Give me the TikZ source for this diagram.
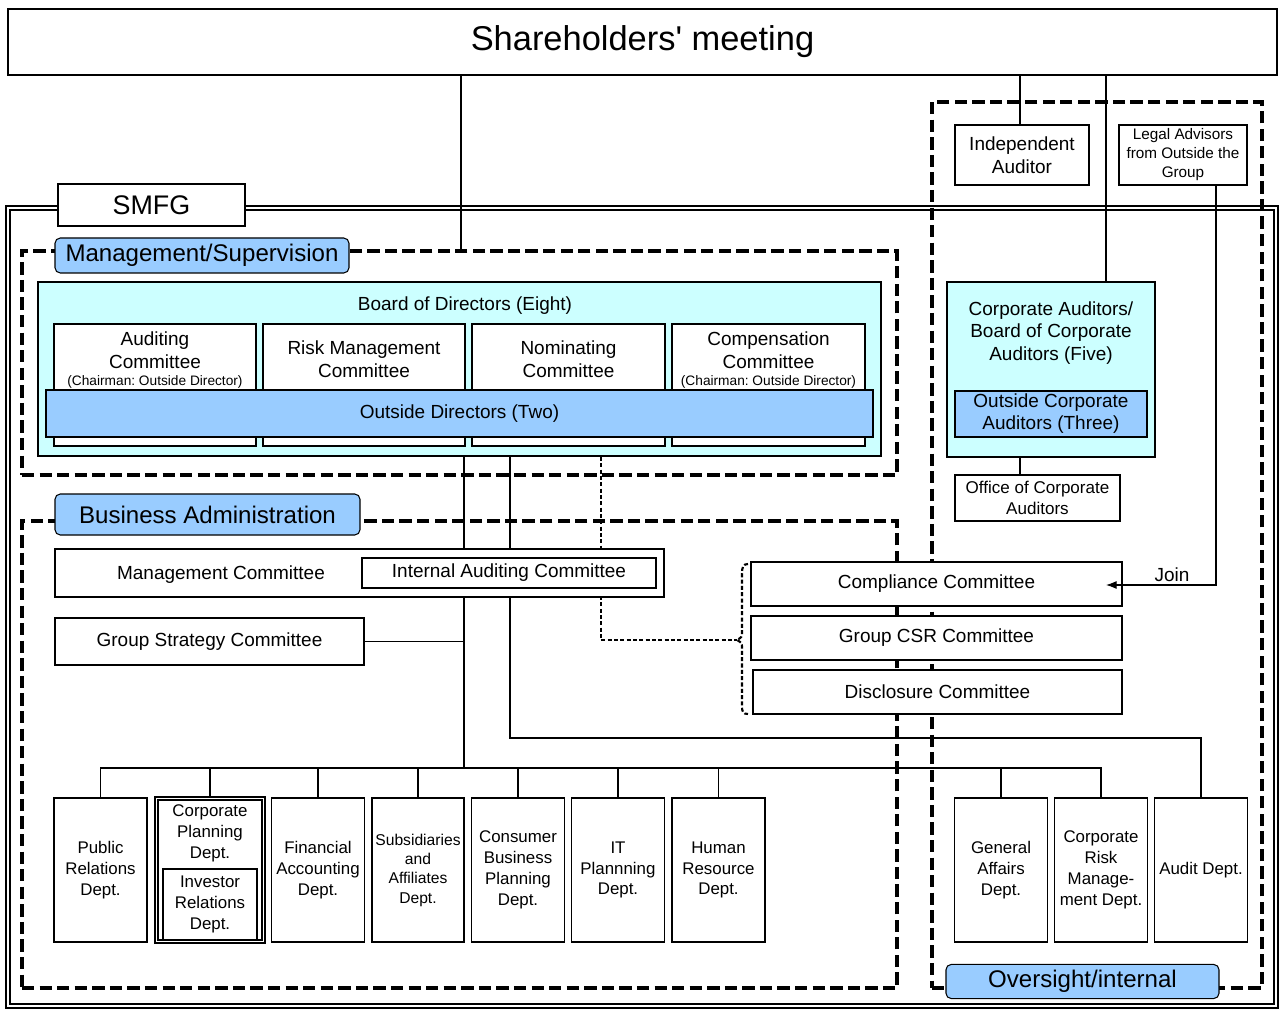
\documentclass[tikz,border=0pt]{standalone}
\usepackage{fontspec}
\setmainfont{Liberation Sans}
\usetikzlibrary{arrows.meta,calc}
\definecolor{lightcyan}{HTML}{CCFFFF}
\definecolor{paleblue}{HTML}{99CCFF}
\frenchspacing
\tikzstyle{unitbox}=[draw,line width=1.1pt,fill=white,align=center,inner sep=1pt]
\tikzstyle{thinbox}=[draw,line width=0.8pt,fill=white,align=center,inner sep=1pt]
\tikzstyle{region}=[draw,line width=2.1pt,dash pattern=on 7pt off 3pt]
\tikzstyle{tagbox}=[draw,line width=0.6pt,fill=paleblue,rounded corners=3pt,font=\fontsize{13.7}{16}\selectfont]
\tikzstyle{link}=[draw,line width=0.6pt]
\tikzstyle{dottedlink}=[draw,line width=1pt,dash pattern=on 2.3pt off 1.3pt]
\tikzstyle{bodytext}=[font=\fontsize{10.8}{13}\selectfont,align=center]
\tikzstyle{smalltext}=[font=\fontsize{7.8}{9}\selectfont]
\tikzstyle{depttext}=[font=\fontsize{9.6}{11.9}\selectfont]
\tikzset{sz/.style 2 args={minimum width=#1*0.02cm,minimum height=#2*0.02cm}}

\begin{document}
\begin{tikzpicture}[x=0.02cm,y=-0.02cm]
\useasboundingbox (0,0) rectangle (1279,1010);

% frames and regions
\node[draw,line width=0.95pt,double,double distance=1pt,sz={1268}{798}] (smfgframe) at (642,607) {};
\node[region,sz={875}{224}] (msreg) at (459.5,363) {};
\node[region,sz={875}{467}] (bareg) at (459.5,754.5) {};
\node[region,sz={330}{886}] (ovreg) at (1097,545) {};

\node[unitbox,line width=0.6pt,sz={187}{42},font=\fontsize{15.3}{18}\selectfont] (smfg) at (151.5,205) {SMFG};
\node[tagbox,sz={294}{35}] (mstag) at (202,255.5) {Management/Supervision};
\node[tagbox,sz={305}{41}] (batag) at (207.5,514.5) {Business Administration};
\node[tagbox,sz={273}{33}] (ovtag) at (1082.5,981.5) {Oversight/internal};

% top
\node[unitbox,sz={1269}{66},font=\fontsize{19.6}{23}\selectfont] (share) at (642.5,42) {Shareholders\textquotesingle{} meeting};

% corporate auditors side
\node[unitbox,bodytext,sz={134}{60}] (indaud) at (1022,155) {Independent\\Auditor};
\node[unitbox,sz={128}{60},font=\fontsize{8.7}{10.8}\selectfont] (legal) at (1183,155) {Legal Advisors\\from Outside the\\Group};
\node[unitbox,fill=lightcyan,sz={208}{175}] (corpaud) at (1051,369.5) {};
\node[bodytext] (corpaudtext) at (1051,333) {Corporate Auditors/\\Board of Corporate\\Auditors (Five)};
\node[unitbox,fill=paleblue,sz={192}{46},font=\fontsize{10.8}{12.5}\selectfont] (outcorp) at (1051,414) {Outside Corporate\\Auditors (Three)};
\node[unitbox,sz={165}{46},font=\fontsize{9.7}{12}\selectfont] (office) at (1037.5,498) {Office of Corporate\\Auditors};

% board
\node[unitbox,fill=lightcyan,sz={843}{174}] (board) at (459.5,369) {};
\node[bodytext] (boardtitle) at (465,306) {Board of Directors (Eight)};
\foreach \pos/\w/\name in {{(155,385)/202/aud},{(364,385)/202/risk},{(568.5,385)/193/nom},{(768.5,385)/193/comp}}
    \node[unitbox,sz={\w}{122}] (\name) at \pos {};
\node[bodytext] at (155,350) {Auditing\\Committee};
\node[smalltext] at (155,382) {(Chairman: Outside Director)};
\node[bodytext] at (364,359) {Risk Management\\Committee};
\node[bodytext] at (568.5,359) {Nominating\\Committee};
\node[bodytext] at (768.5,350) {Compensation\\Committee};
\node[smalltext] at (768.5,382) {(Chairman: Outside Director)};
\node[unitbox,bodytext,fill=paleblue,sz={827}{47}] (outdir) at (459.5,413.5) {Outside Directors (Two)};

% dotted link runs behind the management committee
\coordinate (x601) at (601,0);
\coordinate (bracetip) at (737,640);
\path[dottedlink] (board.south -| x601) |- (bracetip);

% business administration
\node[unitbox,sz={609}{48}] (mgmt) at (359.5,573) {};
\node[bodytext] (mgmttext) at (221,575) {Management Committee};
\node[thinbox,bodytext,sz={294}{30}] (intaud) at (509,573) {Internal Auditing Committee};
\node[unitbox,bodytext,sz={309}{47}] (gsc) at (209.5,641.5) {Group Strategy Committee};

\node[thinbox,bodytext,sz={371}{44}] (compl) at (936.5,584) {Compliance Committee};
\node[thinbox,bodytext,sz={371}{44}] (csr) at (936.5,638) {Group CSR Committee};
\node[thinbox,bodytext,sz={369}{44}] (discl) at (937.5,692) {Disclosure Committee};
\draw[dottedlink,line width=1.2pt] (748,564) .. controls (743,564) and (742,567) .. (742,574) -- (742,632) .. controls (742,637) .. (bracetip) .. controls (742,643) .. (742,648) -- (742,706) .. controls (742,712) and (743,714) .. (748,714);

% departments
\foreach \xc/\name/\deptname in {100.5/pr/{Public\\Relations\\Dept.},318/fa/{Financial\\Accounting\\Dept.},518/cbp/{Consumer\\Business\\Planning\\Dept.},618/it/{IT\\Plannning\\Dept.},718.5/hr/{Human\\Resource\\Dept.},1001/ga/{General\\Affairs\\Dept.},1101/crm/{Corporate\\Risk\\Manage-\\ment Dept.},1201/audit/{Audit Dept.}}
    \node[unitbox,depttext,sz={93}{144}] (\name) at (\xc,870) {\deptname};
\node[unitbox,font=\fontsize{8.9}{11}\selectfont,sz={92}{144}] (sub) at (418,870) {Subsidiaries\\and\\Affiliates\\Dept.};
\node[draw,line width=0.8pt,double,double distance=0.8pt,fill=white,sz={107}{143}] (cp) at (210,870) {};
\node[depttext,align=center] (cptext) at (210,833) {Corporate\\Planning\\Dept.};
\node[unitbox,depttext,sz={94}{71}] (ir) at (210,904.5) {Investor\\Relations\\Dept.};

% connectors
\coordinate (x461) at (461,0);
\coordinate (x464) at (464,0);
\coordinate (x510) at (510,0);
\coordinate (x1020) at (1020,0);
\coordinate (x1106) at (1106,0);
\coordinate (x1216) at (1216,0);
\coordinate (y738) at (0,738);
\coordinate (bus) at (464,768);
\coordinate (joinpt) at (1106,585);

\path[link] (share.south -| x461) -- (msreg.north -| x461);
\path[link] (share.south -| x1020) -- (indaud.north -| x1020);
\path[link] (share.south -| x1106) -- (corpaud.north -| x1106);
\path[link] (corpaud.south -| x1020) -- (office.north -| x1020);
\draw[link,-{Latex[length=6pt,width=4.5pt]}] (legal.south -| x1216) |- node[pos=0.7,above,inner sep=1.5pt,bodytext] {Join} (joinpt);

\path[link] (board.south -| x464) -- (mgmt.north -| x464);
\path[link] (board.south -| x510) -- (mgmt.north -| x510);
\path[link] (mgmt.south -| x464) -- (bus);
\path[link] (gsc.east) -- (gsc.east -| x464);
\path[link] (mgmt.south -| x510) |- (audit.north |- y738) -- (audit.north);
\foreach \name in {pr,cp,fa,sub,cbp,it,hr,ga,crm}
    \path[link] (bus) -| (\name.north);

\end{tikzpicture}
\end{document}
